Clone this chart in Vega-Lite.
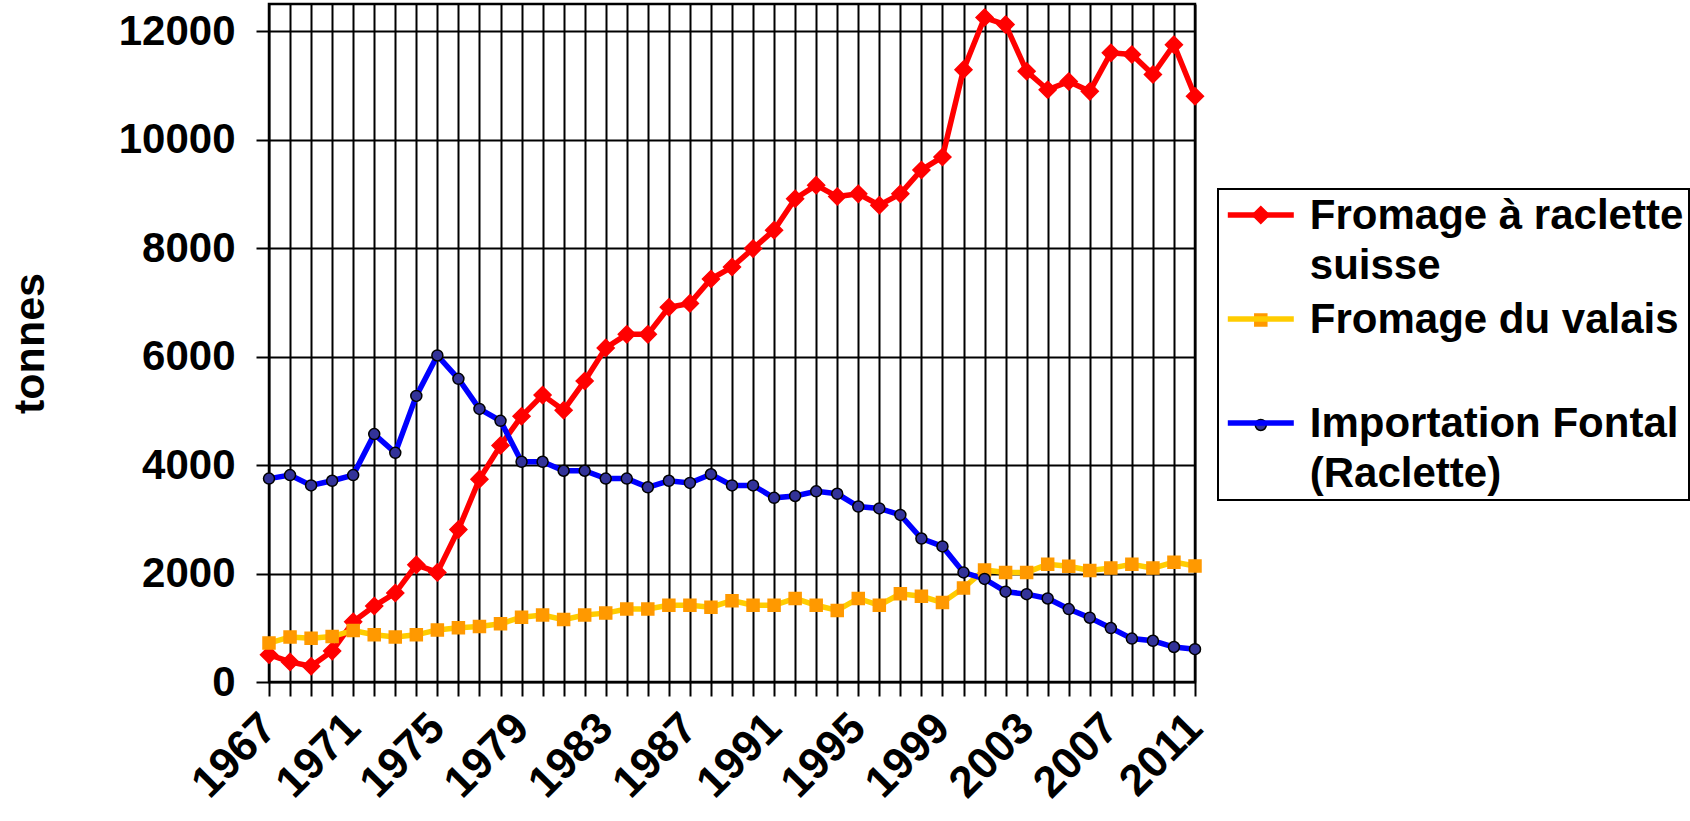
{
  "$schema": "https://vega.github.io/schema/vega-lite/v6.json",
  "width": 926,
  "height": 678,
  "autosize": {"type": "none"},
  "padding": {"left": 269, "top": 4, "right": 495, "bottom": 139},
  "background": "white",
  "config": {
    "font": "Liberation Sans",
    "view": {"stroke": "black", "strokeWidth": 2.5},
    "axis": {
      "labelFont": "Liberation Sans", "labelFontWeight": "bold", "labelColor": "black",
      "titleFont": "Liberation Sans", "titleFontWeight": "bold", "titleColor": "black",
      "gridColor": "black", "gridWidth": 2, "gridOpacity": 1,
      "tickColor": "black", "tickWidth": 2, "domain": false
    }
  },
  "data": {
    "values": [
      {"annee": 1967, "serie": "Fromage à raclette suisse", "tonnes": 503},
      {"annee": 1968, "serie": "Fromage à raclette suisse", "tonnes": 370},
      {"annee": 1969, "serie": "Fromage à raclette suisse", "tonnes": 290},
      {"annee": 1970, "serie": "Fromage à raclette suisse", "tonnes": 570},
      {"annee": 1971, "serie": "Fromage à raclette suisse", "tonnes": 1110},
      {"annee": 1972, "serie": "Fromage à raclette suisse", "tonnes": 1400},
      {"annee": 1973, "serie": "Fromage à raclette suisse", "tonnes": 1640},
      {"annee": 1974, "serie": "Fromage à raclette suisse", "tonnes": 2160},
      {"annee": 1975, "serie": "Fromage à raclette suisse", "tonnes": 2020},
      {"annee": 1976, "serie": "Fromage à raclette suisse", "tonnes": 2810},
      {"annee": 1977, "serie": "Fromage à raclette suisse", "tonnes": 3740},
      {"annee": 1978, "serie": "Fromage à raclette suisse", "tonnes": 4360},
      {"annee": 1979, "serie": "Fromage à raclette suisse", "tonnes": 4900},
      {"annee": 1980, "serie": "Fromage à raclette suisse", "tonnes": 5290},
      {"annee": 1981, "serie": "Fromage à raclette suisse", "tonnes": 5010},
      {"annee": 1982, "serie": "Fromage à raclette suisse", "tonnes": 5550},
      {"annee": 1983, "serie": "Fromage à raclette suisse", "tonnes": 6160},
      {"annee": 1984, "serie": "Fromage à raclette suisse", "tonnes": 6410},
      {"annee": 1985, "serie": "Fromage à raclette suisse", "tonnes": 6410},
      {"annee": 1986, "serie": "Fromage à raclette suisse", "tonnes": 6910},
      {"annee": 1987, "serie": "Fromage à raclette suisse", "tonnes": 6980},
      {"annee": 1988, "serie": "Fromage à raclette suisse", "tonnes": 7430},
      {"annee": 1989, "serie": "Fromage à raclette suisse", "tonnes": 7650},
      {"annee": 1990, "serie": "Fromage à raclette suisse", "tonnes": 7990},
      {"annee": 1991, "serie": "Fromage à raclette suisse", "tonnes": 8330},
      {"annee": 1992, "serie": "Fromage à raclette suisse", "tonnes": 8910},
      {"annee": 1993, "serie": "Fromage à raclette suisse", "tonnes": 9160},
      {"annee": 1994, "serie": "Fromage à raclette suisse", "tonnes": 8950},
      {"annee": 1995, "serie": "Fromage à raclette suisse", "tonnes": 9000},
      {"annee": 1996, "serie": "Fromage à raclette suisse", "tonnes": 8790},
      {"annee": 1997, "serie": "Fromage à raclette suisse", "tonnes": 9000},
      {"annee": 1998, "serie": "Fromage à raclette suisse", "tonnes": 9440},
      {"annee": 1999, "serie": "Fromage à raclette suisse", "tonnes": 9680},
      {"annee": 2000, "serie": "Fromage à raclette suisse", "tonnes": 11290},
      {"annee": 2001, "serie": "Fromage à raclette suisse", "tonnes": 12250},
      {"annee": 2002, "serie": "Fromage à raclette suisse", "tonnes": 12120},
      {"annee": 2003, "serie": "Fromage à raclette suisse", "tonnes": 11260},
      {"annee": 2004, "serie": "Fromage à raclette suisse", "tonnes": 10920},
      {"annee": 2005, "serie": "Fromage à raclette suisse", "tonnes": 11070},
      {"annee": 2006, "serie": "Fromage à raclette suisse", "tonnes": 10890},
      {"annee": 2007, "serie": "Fromage à raclette suisse", "tonnes": 11600},
      {"annee": 2008, "serie": "Fromage à raclette suisse", "tonnes": 11570},
      {"annee": 2009, "serie": "Fromage à raclette suisse", "tonnes": 11200},
      {"annee": 2010, "serie": "Fromage à raclette suisse", "tonnes": 11750},
      {"annee": 2011, "serie": "Fromage à raclette suisse", "tonnes": 10800},
      {"annee": 1967, "serie": "Fromage du valais", "tonnes": 718},
      {"annee": 1968, "serie": "Fromage du valais", "tonnes": 830},
      {"annee": 1969, "serie": "Fromage du valais", "tonnes": 805},
      {"annee": 1970, "serie": "Fromage du valais", "tonnes": 840},
      {"annee": 1971, "serie": "Fromage du valais", "tonnes": 950},
      {"annee": 1972, "serie": "Fromage du valais", "tonnes": 870},
      {"annee": 1973, "serie": "Fromage du valais", "tonnes": 830},
      {"annee": 1974, "serie": "Fromage du valais", "tonnes": 870},
      {"annee": 1975, "serie": "Fromage du valais", "tonnes": 960},
      {"annee": 1976, "serie": "Fromage du valais", "tonnes": 1000},
      {"annee": 1977, "serie": "Fromage du valais", "tonnes": 1025},
      {"annee": 1978, "serie": "Fromage du valais", "tonnes": 1075},
      {"annee": 1979, "serie": "Fromage du valais", "tonnes": 1195},
      {"annee": 1980, "serie": "Fromage du valais", "tonnes": 1235},
      {"annee": 1981, "serie": "Fromage du valais", "tonnes": 1150},
      {"annee": 1982, "serie": "Fromage du valais", "tonnes": 1235},
      {"annee": 1983, "serie": "Fromage du valais", "tonnes": 1270},
      {"annee": 1984, "serie": "Fromage du valais", "tonnes": 1345},
      {"annee": 1985, "serie": "Fromage du valais", "tonnes": 1345},
      {"annee": 1986, "serie": "Fromage du valais", "tonnes": 1415},
      {"annee": 1987, "serie": "Fromage du valais", "tonnes": 1415},
      {"annee": 1988, "serie": "Fromage du valais", "tonnes": 1380},
      {"annee": 1989, "serie": "Fromage du valais", "tonnes": 1500},
      {"annee": 1990, "serie": "Fromage du valais", "tonnes": 1415},
      {"annee": 1991, "serie": "Fromage du valais", "tonnes": 1415},
      {"annee": 1992, "serie": "Fromage du valais", "tonnes": 1540},
      {"annee": 1993, "serie": "Fromage du valais", "tonnes": 1415},
      {"annee": 1994, "serie": "Fromage du valais", "tonnes": 1320},
      {"annee": 1995, "serie": "Fromage du valais", "tonnes": 1540},
      {"annee": 1996, "serie": "Fromage du valais", "tonnes": 1415},
      {"annee": 1997, "serie": "Fromage du valais", "tonnes": 1625},
      {"annee": 1998, "serie": "Fromage du valais", "tonnes": 1580},
      {"annee": 1999, "serie": "Fromage du valais", "tonnes": 1465},
      {"annee": 2000, "serie": "Fromage du valais", "tonnes": 1735},
      {"annee": 2001, "serie": "Fromage du valais", "tonnes": 2065},
      {"annee": 2002, "serie": "Fromage du valais", "tonnes": 2020},
      {"annee": 2003, "serie": "Fromage du valais", "tonnes": 2020},
      {"annee": 2004, "serie": "Fromage du valais", "tonnes": 2170},
      {"annee": 2005, "serie": "Fromage du valais", "tonnes": 2135},
      {"annee": 2006, "serie": "Fromage du valais", "tonnes": 2055},
      {"annee": 2007, "serie": "Fromage du valais", "tonnes": 2100},
      {"annee": 2008, "serie": "Fromage du valais", "tonnes": 2170},
      {"annee": 2009, "serie": "Fromage du valais", "tonnes": 2100},
      {"annee": 2010, "serie": "Fromage du valais", "tonnes": 2210},
      {"annee": 2011, "serie": "Fromage du valais", "tonnes": 2140},
      {"annee": 1967, "serie": "Importation Fontal (Raclette)", "tonnes": 3750},
      {"annee": 1968, "serie": "Importation Fontal (Raclette)", "tonnes": 3815},
      {"annee": 1969, "serie": "Importation Fontal (Raclette)", "tonnes": 3625},
      {"annee": 1970, "serie": "Importation Fontal (Raclette)", "tonnes": 3710},
      {"annee": 1971, "serie": "Importation Fontal (Raclette)", "tonnes": 3815},
      {"annee": 1972, "serie": "Importation Fontal (Raclette)", "tonnes": 4570},
      {"annee": 1973, "serie": "Importation Fontal (Raclette)", "tonnes": 4225},
      {"annee": 1974, "serie": "Importation Fontal (Raclette)", "tonnes": 5275},
      {"annee": 1975, "serie": "Importation Fontal (Raclette)", "tonnes": 6020},
      {"annee": 1976, "serie": "Importation Fontal (Raclette)", "tonnes": 5590},
      {"annee": 1977, "serie": "Importation Fontal (Raclette)", "tonnes": 5035},
      {"annee": 1978, "serie": "Importation Fontal (Raclette)", "tonnes": 4815},
      {"annee": 1979, "serie": "Importation Fontal (Raclette)", "tonnes": 4060},
      {"annee": 1980, "serie": "Importation Fontal (Raclette)", "tonnes": 4060},
      {"annee": 1981, "serie": "Importation Fontal (Raclette)", "tonnes": 3895},
      {"annee": 1982, "serie": "Importation Fontal (Raclette)", "tonnes": 3895},
      {"annee": 1983, "serie": "Importation Fontal (Raclette)", "tonnes": 3750},
      {"annee": 1984, "serie": "Importation Fontal (Raclette)", "tonnes": 3750},
      {"annee": 1985, "serie": "Importation Fontal (Raclette)", "tonnes": 3590},
      {"annee": 1986, "serie": "Importation Fontal (Raclette)", "tonnes": 3710},
      {"annee": 1987, "serie": "Importation Fontal (Raclette)", "tonnes": 3670},
      {"annee": 1988, "serie": "Importation Fontal (Raclette)", "tonnes": 3830},
      {"annee": 1989, "serie": "Importation Fontal (Raclette)", "tonnes": 3625},
      {"annee": 1990, "serie": "Importation Fontal (Raclette)", "tonnes": 3625},
      {"annee": 1991, "serie": "Importation Fontal (Raclette)", "tonnes": 3395},
      {"annee": 1992, "serie": "Importation Fontal (Raclette)", "tonnes": 3430},
      {"annee": 1993, "serie": "Importation Fontal (Raclette)", "tonnes": 3515},
      {"annee": 1994, "serie": "Importation Fontal (Raclette)", "tonnes": 3470},
      {"annee": 1995, "serie": "Importation Fontal (Raclette)", "tonnes": 3235},
      {"annee": 1996, "serie": "Importation Fontal (Raclette)", "tonnes": 3200},
      {"annee": 1997, "serie": "Importation Fontal (Raclette)", "tonnes": 3080},
      {"annee": 1998, "serie": "Importation Fontal (Raclette)", "tonnes": 2645},
      {"annee": 1999, "serie": "Importation Fontal (Raclette)", "tonnes": 2500},
      {"annee": 2000, "serie": "Importation Fontal (Raclette)", "tonnes": 2020},
      {"annee": 2001, "serie": "Importation Fontal (Raclette)", "tonnes": 1900},
      {"annee": 2002, "serie": "Importation Fontal (Raclette)", "tonnes": 1665},
      {"annee": 2003, "serie": "Importation Fontal (Raclette)", "tonnes": 1620},
      {"annee": 2004, "serie": "Importation Fontal (Raclette)", "tonnes": 1540},
      {"annee": 2005, "serie": "Importation Fontal (Raclette)", "tonnes": 1345},
      {"annee": 2006, "serie": "Importation Fontal (Raclette)", "tonnes": 1185},
      {"annee": 2007, "serie": "Importation Fontal (Raclette)", "tonnes": 995},
      {"annee": 2008, "serie": "Importation Fontal (Raclette)", "tonnes": 800},
      {"annee": 2009, "serie": "Importation Fontal (Raclette)", "tonnes": 760},
      {"annee": 2010, "serie": "Importation Fontal (Raclette)", "tonnes": 645},
      {"annee": 2011, "serie": "Importation Fontal (Raclette)", "tonnes": 605}
    ]
  },
  "encoding": {
    "x": {
      "field": "annee", "type": "quantitative",
      "scale": {"domain": [1967, 2011], "nice": false, "zero": false},
      "axis": {
        "title": null, "format": "d",
        "values": [1967,1968,1969,1970,1971,1972,1973,1974,1975,1976,1977,1978,1979,1980,1981,1982,1983,1984,1985,1986,1987,1988,1989,1990,1991,1992,1993,1994,1995,1996,1997,1998,1999,2000,2001,2002,2003,2004,2005,2006,2007,2008,2009,2010,2011],
        "labelExpr": "(datum.value - 1967) % 4 == 0 ? datum.label : ''",
        "labelAngle": -45, "labelAlign": "right", "labelBaseline": "middle",
        "labelFontSize": 44, "labelPadding": 25, "tickSize": 14, "grid": true,
        "labelOverlap": false, "labelFlush": false, "labelBound": false
      }
    },
    "y": {
      "field": "tonnes", "type": "quantitative",
      "scale": {"domain": [0, 12500], "nice": false},
      "axis": {
        "title": "tonnes", "format": "d",
        "values": [0, 2000, 4000, 6000, 8000, 10000, 12000],
        "labelFontSize": 42, "labelPadding": 21, "tickSize": 13, "grid": true,
        "titleFontSize": 43, "titlePadding": 66,
        "labelOverlap": false, "labelFlush": false
      }
    }
  },
  "layer": [
    {
      "mark": {"type": "line", "strokeWidth": 5.5},
      "encoding": {
        "color": {
          "field": "serie", "type": "nominal",
          "scale": {"domain": ["Fromage à raclette suisse", "Fromage du valais", "Importation Fontal (Raclette)"], "range": ["#FF0000", "#FFCC00", "#0000FF"]},
          "legend": {
            "title": null, "orient": "none", "legendX": 949, "legendY": 185,
            "padding": 5, "strokeColor": "black",
            "symbolType": "M-2,0H2", "symbolSize": 1089, "symbolStrokeWidth": 5.5, "symbolOffset": 16.8,
            "labelFont": "Liberation Sans", "labelFontWeight": "bold", "labelFontSize": 42, "labelColor": "black",
            "labelBaseline": "alphabetic", "labelOffset": 28, "labelLimit": 1000,
            "rowPadding": 11,
            "labelExpr": "datum.label == 'Fromage du valais' ? ['Fromage du valais', ''] : datum.label == 'Fromage à raclette suisse' ? ['Fromage à raclette', 'suisse'] : ['Importation Fontal', '(Raclette)']",
            "encode": {
              "labels": {"update": {"dy": {"value": 14}, "lineHeight": {"value": 50}}},
              "legend": {"update": {"strokeWidth": {"value": 2}}}
            }
          }
        }
      }
    },
    {
      "mark": {"type": "point", "filled": true, "size": 400, "strokeWidth": 1.5, "opacity": 1},
      "encoding": {
        "shape": {
          "field": "serie", "type": "nominal",
          "scale": {"domain": ["Fromage à raclette suisse", "Fromage du valais", "Importation Fontal (Raclette)"], "range": ["M0,-0.85L0.85,0L0,0.85L-0.85,0Z", "M-0.6,-0.6H0.6V0.6H-0.6Z", "M-0.55,0A0.55,0.55,0,1,0,0.55,0A0.55,0.55,0,1,0,-0.55,0Z"]},
          "legend": {
            "title": null, "orient": "none", "legendX": 949, "legendY": 185,
            "padding": 5, "symbolSize": 400, "symbolStrokeWidth": 1.5, "symbolOffset": 16.8,
            "labelFont": "Liberation Sans", "labelFontWeight": "bold", "labelFontSize": 42, "labelOpacity": 0,
            "labelBaseline": "alphabetic", "labelOffset": 28, "labelLimit": 1000,
            "rowPadding": 19,
            "labelExpr": "datum.label == 'Fromage du valais' ? ['Fromage du valais', ''] : datum.label == 'Fromage à raclette suisse' ? ['Fromage à raclette', 'suisse'] : ['Importation Fontal', '(Raclette)']",
            "encode": {"labels": {"update": {"dy": {"value": 14}, "lineHeight": {"value": 50}}}}
          }
        },
        "fill": {
          "field": "serie", "type": "nominal",
          "scale": {"domain": ["Fromage à raclette suisse", "Fromage du valais", "Importation Fontal (Raclette)"], "range": ["#FF0000", "#FF9900", "#333399"]},
          "legend": {
            "title": null, "orient": "none", "legendX": 949, "legendY": 185,
            "padding": 5, "symbolSize": 400, "symbolStrokeWidth": 1.5, "symbolOffset": 16.8,
            "labelFont": "Liberation Sans", "labelFontWeight": "bold", "labelFontSize": 42, "labelOpacity": 0,
            "labelBaseline": "alphabetic", "labelOffset": 28, "labelLimit": 1000,
            "rowPadding": 19,
            "labelExpr": "datum.label == 'Fromage du valais' ? ['Fromage du valais', ''] : datum.label == 'Fromage à raclette suisse' ? ['Fromage à raclette', 'suisse'] : ['Importation Fontal', '(Raclette)']",
            "encode": {"labels": {"update": {"dy": {"value": 14}, "lineHeight": {"value": 50}}}}
          }
        },
        "stroke": {
          "field": "serie", "type": "nominal",
          "scale": {"domain": ["Fromage à raclette suisse", "Fromage du valais", "Importation Fontal (Raclette)"], "range": ["#FF0000", "#FF9900", "#000000"]},
          "legend": {
            "title": null, "orient": "none", "legendX": 949, "legendY": 185,
            "padding": 5, "symbolSize": 400, "symbolStrokeWidth": 1.5, "symbolOffset": 16.8,
            "labelFont": "Liberation Sans", "labelFontWeight": "bold", "labelFontSize": 42, "labelOpacity": 0,
            "labelBaseline": "alphabetic", "labelOffset": 28, "labelLimit": 1000,
            "rowPadding": 19,
            "labelExpr": "datum.label == 'Fromage du valais' ? ['Fromage du valais', ''] : datum.label == 'Fromage à raclette suisse' ? ['Fromage à raclette', 'suisse'] : ['Importation Fontal', '(Raclette)']",
            "encode": {"labels": {"update": {"dy": {"value": 14}, "lineHeight": {"value": 50}}}}
          }
        }
      }
    }
  ],
  "resolve": {"scale": {"color": "independent"}, "legend": {"color": "independent"}}
}
